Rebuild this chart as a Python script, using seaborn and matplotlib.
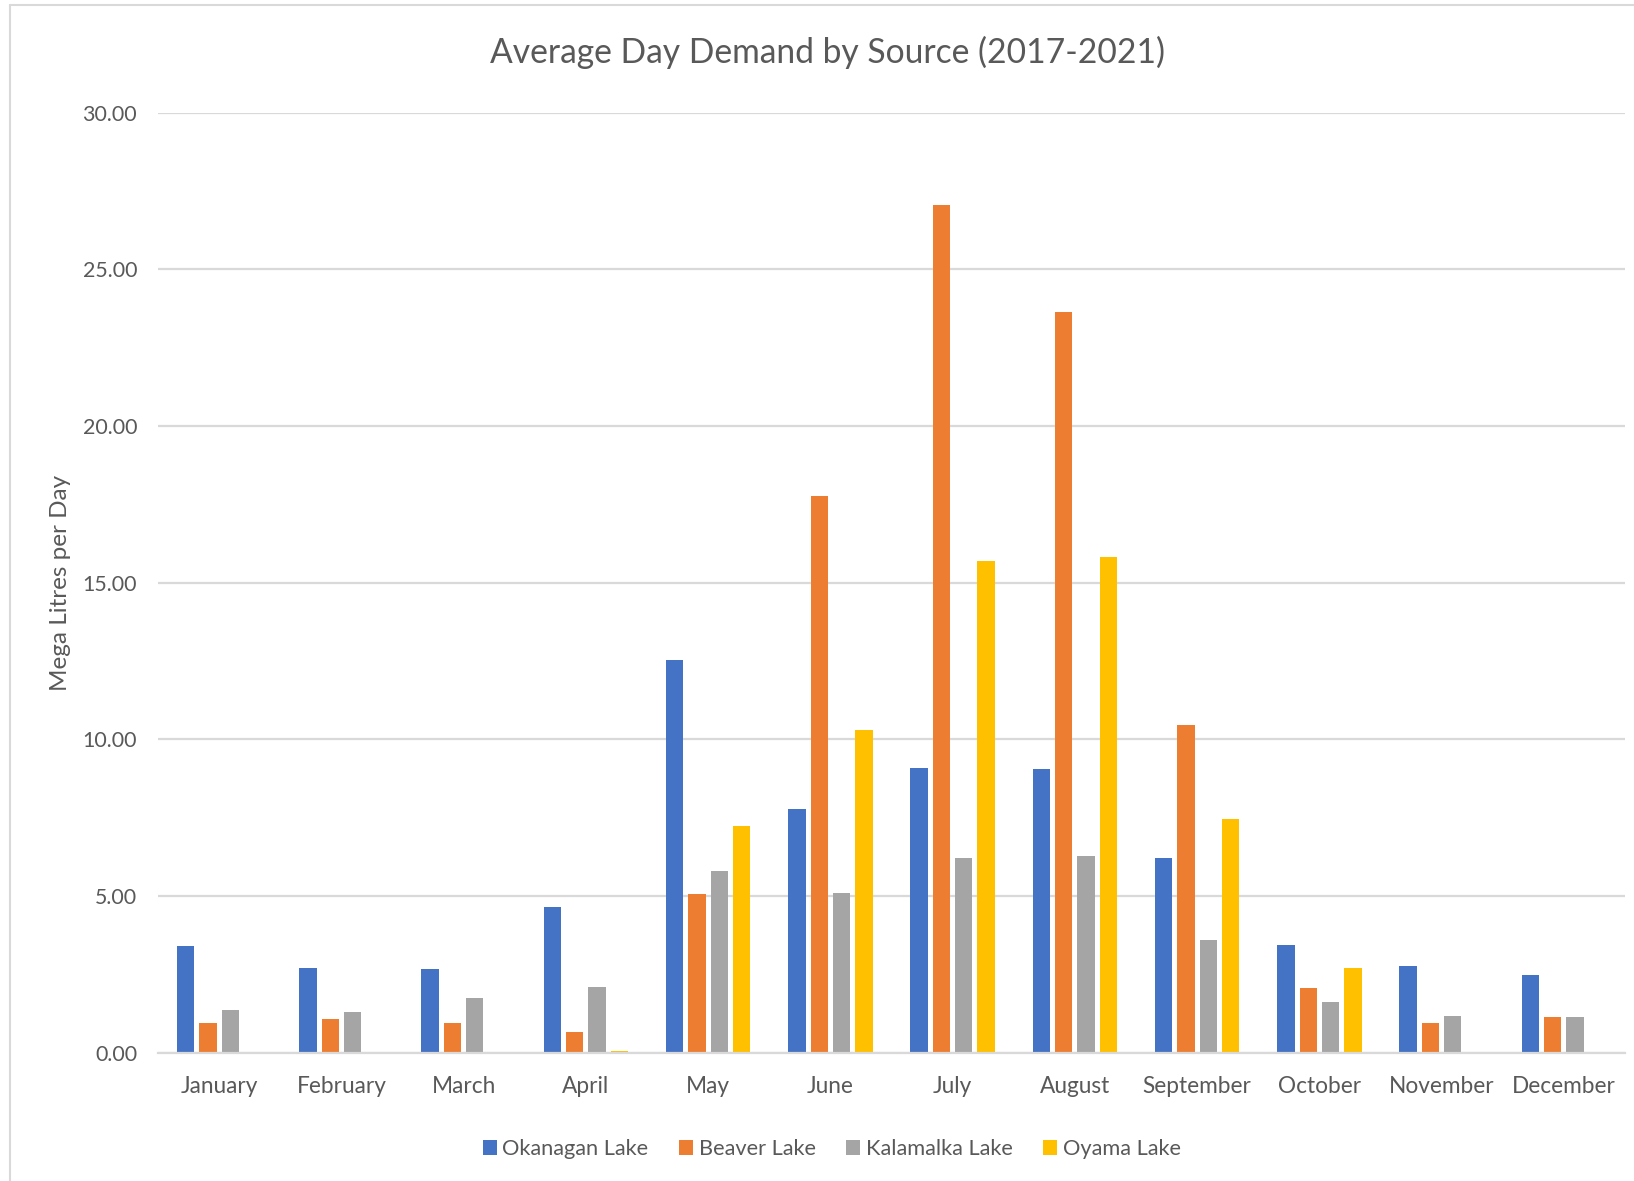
import matplotlib
matplotlib.use("Agg")
import matplotlib.pyplot as plt
from matplotlib.patches import Patch
from matplotlib.lines import Line2D
import seaborn as sns
import pandas as pd

months = ["January", "February", "March", "April", "May", "June", "July",
          "August", "September", "October", "November", "December"]
sources = ["Okanagan Lake", "Beaver Lake", "Kalamalka Lake", "Oyama Lake"]

okanagan = [3.41, 2.71, 2.67, 4.66, 12.54, 7.78, 9.08, 9.05, 6.21, 3.43, 2.75, 2.48]
beaver = [0.94, 1.07, 0.95, 0.67, 5.05, 17.76, 27.04, 23.64, 10.44, 2.06, 0.96, 1.15]
kalamalka = [1.36, 1.29, 1.75, 2.10, 5.79, 5.09, 6.21, 6.29, 3.60, 1.63, 1.18, 1.15]
oyama = [0.0, 0.0, 0.0, 0.04, 7.22, 10.28, 15.70, 15.83, 7.44, 2.69, 0.0, 0.0]

colors = ["#4472C4", "#ED7D31", "#A5A5A5", "#FFC000"]
text_color = "#595959"
grid_color = "#D9D9D9"

frames = []
for name, vals in zip(sources, [okanagan, beaver, kalamalka, oyama]):
    frames.append(pd.DataFrame({"Month": months, "Source": name, "Value": vals}))
df = pd.concat(frames, ignore_index=True)

sns.set_theme(style="white")
plt.rcParams["font.family"] = ["Lato", "DejaVu Sans"]

fig = plt.figure(figsize=(16.34, 11.81), dpi=100)
ax = fig.add_axes([0.0967, 0.1087, 0.8978, 0.796])

sns.barplot(data=df, x="Month", y="Value", hue="Source", order=months,
            hue_order=sources, palette=colors, width=0.73, gap=0.22,
            errorbar=None, legend=False, linewidth=0, saturation=1, ax=ax)

ticks = [0, 5, 10, 15, 20, 25, 30]
ax.set_ylim(0, 30)
ax.set_xlim(-0.5, len(months) - 0.5)
ax.set_yticks(ticks)
ax.set_yticklabels([f"{v:.2f}" for v in ticks])
ax.set_axisbelow(True)
ax.yaxis.grid(True, color=grid_color, linewidth=1.6)
ax.xaxis.grid(False)
for side in ["top", "right", "left"]:
    ax.spines[side].set_visible(False)
ax.spines["bottom"].set_color(grid_color)
ax.spines["bottom"].set_linewidth(1.6)
ax.tick_params(axis="both", length=0, colors=text_color)
ax.tick_params(axis="y", pad=15, labelsize=15.4)
ax.tick_params(axis="x", pad=17, labelsize=16.3)
ax.set_xlabel("")
ax.set_ylabel("Mega Litres per Day", fontsize=17.5, color=text_color)
ax.yaxis.set_label_coords(-0.059, 0.5)

fig.suptitle("Average Day Demand by Source (2017-2021)", fontsize=24.2,
             color=text_color, x=0.5065, y=0.970)

handles = [Patch(facecolor=c, edgecolor="none") for c in colors]
fig.legend(handles, sources, loc="center", bbox_to_anchor=(0.509, 0.027),
           ncol=4, frameon=False, fontsize=15.7, labelcolor=text_color,
           handlelength=0.65, handleheight=0.65, handletextpad=0.25,
           columnspacing=1.4)

# chart area border
fig.add_artist(Line2D([10 / 1634, 10 / 1634], [0, 1 - 5 / 1181],
                      transform=fig.transFigure, color=grid_color, linewidth=1.5))
fig.add_artist(Line2D([10 / 1634, 1], [1 - 5 / 1181, 1 - 5 / 1181],
                      transform=fig.transFigure, color=grid_color, linewidth=1.5))

fig.savefig("out.png", dpi=100, facecolor="white")
